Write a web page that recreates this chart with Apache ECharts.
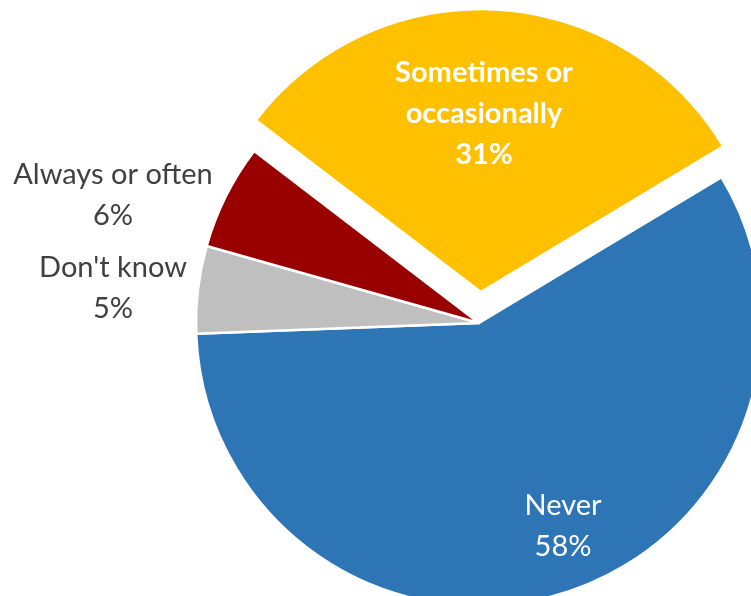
<!DOCTYPE html>
<html><head><meta charset="utf-8">
<script src="https://cdn.jsdelivr.net/npm/echarts@6/dist/echarts.min.js"></script>
<style>html,body{margin:0;padding:0;background:#fff}#c{width:751px;height:596px}</style>
</head><body><div id="c"></div>
<script>
const categories = ['Never', "Don't know", 'Always or often', 'Sometimes or occasionally'];
const labelTexts = ['Never', "Don't know", 'Always or often', 'Sometimes or\noccasionally'];
const values = [58, 5, 6, 31];
const colors = ['#2E75B6', '#BFBFBF', '#990000', '#FFC000'];
const exploded = [false, false, false, true];

const chart = echarts.init(document.getElementById('c'), null, {renderer: 'canvas'});
const labelAnchors = [[563, 526], [113, 288], [113, 195], [484, 114]];
const labelStyles = [
  {color: '#ffffff', fontWeight: 'normal'},
  {color: '#404040', fontWeight: 'normal'},
  {color: '#404040', fontWeight: 'normal'},
  {color: '#ffffff', fontWeight: 'bold'}
];
const pieCenter = [479, 323];
const startAngle = 31;
const explodeDist = 31;
const total = values.reduce((a, b) => a + b, 0);
// explosion direction of the exploded slice (mid-angle)
let acc = 0, explodeVec = [0, 0];
values.forEach((v, i) => {
  const mid = startAngle - (acc + v / 2) / total * 360;
  if (exploded[i]) {
    const rad = mid * Math.PI / 180;
    explodeVec = [Math.cos(rad) * explodeDist, -Math.sin(rad) * explodeDist];
  }
  acc += v;
});
const hidden = {color: 'rgba(0,0,0,0)', borderWidth: 0};
function makeData(forExploded) {
  return categories.map((name, i) => {
    const show = exploded[i] === forExploded;
    return {
      name: name,
      value: values[i],
      itemStyle: show ? {color: colors[i]} : hidden,
      label: show ? Object.assign({show: true}, labelStyles[i]) : {show: false}
    };
  });
}
const common = {
  type: 'pie',
  radius: 283,
  startAngle: startAngle,
  clockwise: true,
  silent: true,
  avoidLabelOverlap: false,
  emphasis: {disabled: true},
  itemStyle: {borderColor: '#ffffff', borderWidth: 2.5},
  label: {
    position: 'inside',
    fontFamily: 'Lato',
    fontSize: 29,
    lineHeight: 41,
    align: 'center',
    formatter: p => labelTexts[p.dataIndex] + '\n' + p.value + '%'
  },
  labelLine: {show: false},
  labelLayout: p => {
    const a = labelAnchors[p.dataIndex];
    return {x: a[0], y: a[1], align: 'center', verticalAlign: 'middle'};
  }
};
chart.setOption({
  animation: false,
  backgroundColor: '#ffffff',
  series: [
    Object.assign({}, common, {center: pieCenter, data: makeData(false)}),
    Object.assign({}, common, {
      center: [pieCenter[0] + explodeVec[0], pieCenter[1] + explodeVec[1]],
      data: makeData(true)
    })
  ]
});
</script></body></html>
